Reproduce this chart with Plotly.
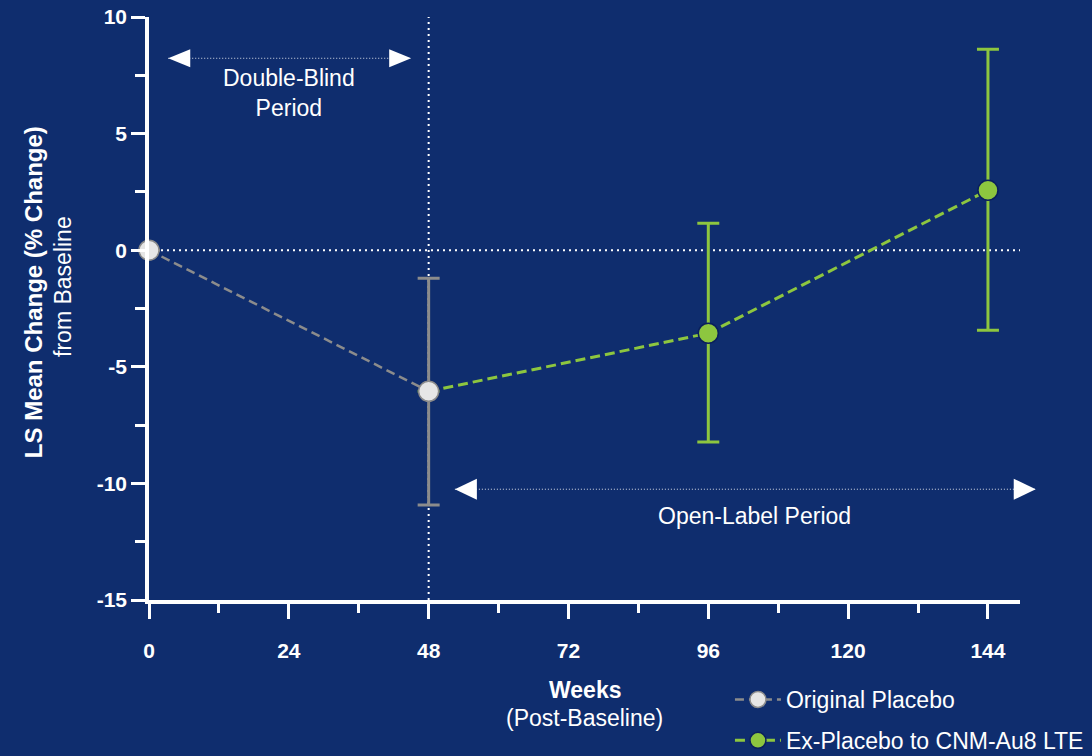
import plotly.graph_objects as go

# ---- data -------------------------------------------------------------
# Original placebo arm through the double-blind period
placebo_weeks = [0, 48]
placebo_mean = [0.0, -6.05]
placebo_err_plus = [None, 4.85]
placebo_err_minus = [None, 4.88]

# Ex-placebo participants switched to CNM-Au8 in the long-term extension
lte_weeks = [48, 96, 144]
lte_mean = [-6.05, -3.56, 2.57]
lte_err_plus = [None, 4.72, 6.05]
lte_err_minus = [None, 4.67, 6.00]

series_names = ["Original Placebo", "Ex-Placebo to CNM-Au8 LTE"]

x_tick_vals = [0, 24, 48, 72, 96, 120, 144]
x_tick_text = ["0", "24", "48", "72", "96", "120", "144"]
y_tick_vals = [-15, -10, -5, 0, 5, 10]
y_tick_text = ["-15", "-10", "-5", "0", "5", "10"]

# ---- styling ----------------------------------------------------------
BG = "#0f2d6e"
WHITE = "#ffffff"
GRAY = "#8c8c8c"
GRAY_FILL = "#e6e6e6"
GREEN = "#8dc63f"
FONT = "Liberation Sans, Arial, sans-serif"

X_MAX = 149.5
Y_MIN, Y_MAX = -15, 10


def px(w):
    """Week value -> paper fraction along x."""
    return w / X_MAX


def py(v):
    """Percent value -> paper fraction along y."""
    return (v - Y_MIN) / (Y_MAX - Y_MIN)


fig = go.Figure()

fig.add_trace(go.Scatter(
    x=lte_weeks, y=lte_mean, name=series_names[1], legendrank=2,
    legendgroup="lte",
    mode="lines+markers", cliponaxis=False,
    line=dict(color=GREEN, width=3, dash="10px,5px"),
    marker=dict(size=20, color=GREEN, line=dict(color="#0a1f5c", width=1.5)),
    error_y=dict(type="data", symmetric=False, array=lte_err_plus,
                 arrayminus=lte_err_minus, color=GREEN, thickness=3, width=11),
))

fig.add_trace(go.Scatter(
    x=placebo_weeks, y=placebo_mean, name=series_names[0], legendrank=1,
    legendgroup="placebo",
    mode="lines+markers", cliponaxis=False,
    line=dict(color=GRAY, width=2.5, dash="9px,5px"),
    marker=dict(size=20, color=GRAY_FILL, line=dict(color=GRAY, width=1.5)),
    error_y=dict(type="data", symmetric=False, array=placebo_err_plus,
                 arrayminus=placebo_err_minus, color=GRAY, thickness=3, width=11),
))

shapes = [
    # baseline reference at 0 %
    dict(type="line", xref="x", yref="y", x0=0, x1=X_MAX, y0=0, y1=0,
         line=dict(color=WHITE, width=2, dash="2px,4px"), layer="below"),
    # end of the double-blind period
    dict(type="line", xref="x", yref="y", x0=48, x1=48, y0=Y_MIN, y1=Y_MAX,
         line=dict(color=WHITE, width=2, dash="2px,4px"), layer="below"),
]


def period_arrow(w0, w1, v, head_w, head_h):
    out = [dict(type="line", xref="paper", yref="paper",
                x0=px(w0), x1=px(w1), y0=py(v), y1=py(v),
                line=dict(color="rgba(255,255,255,0.85)", width=1, dash="1px,2px"))]
    half = head_h / 2
    out.append(dict(type="path", xref="paper", yref="paper",
                    xsizemode="pixel", ysizemode="pixel",
                    xanchor=px(w0), yanchor=py(v),
                    path=f"M0,0 L{head_w},{half} L{head_w},{-half} Z",
                    fillcolor=WHITE, line=dict(width=0)))
    out.append(dict(type="path", xref="paper", yref="paper",
                    xsizemode="pixel", ysizemode="pixel",
                    xanchor=px(w1), yanchor=py(v),
                    path=f"M0,0 L{-head_w},{half} L{-head_w},{-half} Z",
                    fillcolor=WHITE, line=dict(width=0)))
    return out


shapes += period_arrow(3.3, 45.0, 8.23, 22, 18)
shapes += period_arrow(52.5, 152.2, -10.25, 22, 21)

annotations = [
    dict(text="Double-Blind<br>Period", x=24, y=6.75, xref="x", yref="y",
         showarrow=False, font=dict(size=23, color=WHITE, family=FONT),
         xanchor="center", yanchor="middle"),
    dict(text="Open-Label Period", x=104, y=-11.4, xref="x", yref="y",
         showarrow=False, font=dict(size=23, color=WHITE, family=FONT),
         xanchor="center", yanchor="middle"),
    dict(text="<b>Weeks</b>", x=0.5, y=(600 - 690) / 583, xref="paper", yref="paper",
         showarrow=False, font=dict(size=23, color=WHITE, family=FONT),
         xanchor="center", yanchor="middle"),
    dict(text="(Post-Baseline)", x=0.5, y=(600 - 718) / 583, xref="paper", yref="paper",
         showarrow=False, font=dict(size=23, color=WHITE, family=FONT),
         xanchor="center", yanchor="middle"),
    dict(text="<b>LS Mean Change (% Change)</b>", x=(33 - 149) / 871, y=0.528,
         xref="paper", yref="paper", showarrow=False, textangle=-90,
         font=dict(size=24, color=WHITE, family=FONT),
         xanchor="center", yanchor="middle"),
    dict(text="from Baseline", x=(63 - 149) / 871, y=0.537,
         xref="paper", yref="paper", showarrow=False, textangle=-90,
         font=dict(size=23, color=WHITE, family=FONT),
         xanchor="center", yanchor="middle"),
]

fig.update_layout(
    width=1092, height=756,
    margin=dict(l=149, r=72, t=17, b=156, pad=0, autoexpand=False),
    paper_bgcolor=BG, plot_bgcolor=BG,
    font=dict(family=FONT, color=WHITE),
    shapes=shapes, annotations=annotations,
    showlegend=True,
    legend=dict(x=0.667, y=(600 - 678) / 583, xanchor="left", yanchor="top",
                bgcolor="rgba(0,0,0,0)", font=dict(size=23, color=WHITE, family=FONT),
                tracegroupgap=8, itemwidth=46),
    xaxis=dict(range=[0, X_MAX], showgrid=False, zeroline=False,
               showline=True, linecolor=WHITE, linewidth=3.5,
               tickmode="array", tickvals=x_tick_vals, ticktext=x_tick_text,
               ticks="outside", ticklen=15, tickwidth=3, tickcolor=WHITE,
               ticklabelstandoff=14,
               minor=dict(dtick=12, tick0=0, ticks="outside", ticklen=9,
                          tickwidth=3, tickcolor=WHITE, showgrid=False),
               tickfont=dict(size=21, color=WHITE, family=FONT, weight="bold")),
    yaxis=dict(range=[Y_MIN, Y_MAX], showgrid=False, zeroline=False,
               showline=True, linecolor=WHITE, linewidth=3.5,
               tickmode="array", tickvals=y_tick_vals, ticktext=y_tick_text,
               ticks="outside", ticklen=14, tickwidth=3, tickcolor=WHITE,
               minor=dict(dtick=2.5, tick0=0, ticks="outside", ticklen=10,
                          tickwidth=3, tickcolor=WHITE, showgrid=False),
               tickfont=dict(size=21, color=WHITE, family=FONT, weight="bold")),
)

fig.write_html("out.html")
